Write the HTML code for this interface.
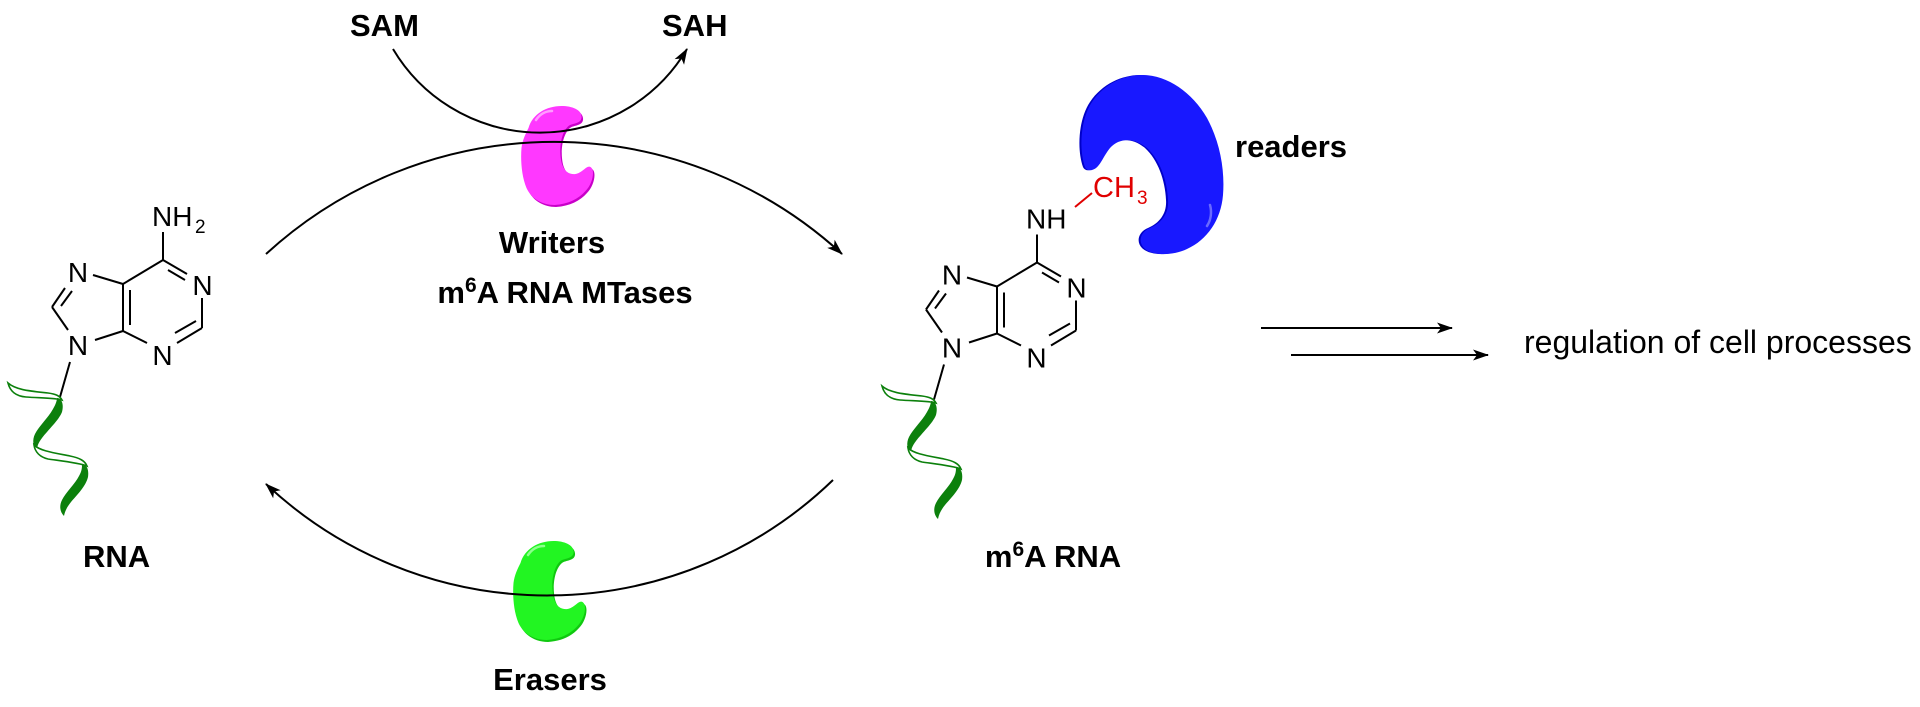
<!DOCTYPE html>
<html>
<head>
<meta charset="utf-8">
<style>
  html,body{margin:0;padding:0;background:#fff;}
  svg{display:block;}
  .lbl{font-family:"Liberation Sans",Arial,sans-serif;font-weight:bold;font-size:31px;fill:#000;}
  .atom{font-family:"Liberation Sans",Arial,sans-serif;font-size:28px;fill:#000;}
  .txt{font-family:"Liberation Sans",Arial,sans-serif;font-size:32px;fill:#000;}
</style>
</head>
<body>
<svg width="1920" height="707" viewBox="0 0 1920 707" xmlns="http://www.w3.org/2000/svg">
  <defs>
    <marker id="ah" viewBox="-18 -8 20 16" refX="0" refY="0" markerWidth="20" markerHeight="16" markerUnits="userSpaceOnUse" orient="auto">
      <path d="M1,0 L-15,-5.5 L-11,0 L-15,5.5 Z" fill="#000"/>
    </marker>
  </defs>
  <rect width="1920" height="707" fill="#fff"/>

  <!-- Writer enzyme (pink) -->
  <g>
    <path d="M530,130 C534,116 548,108 563,108 C574,108 584,112 583,120 C582,126 574,125 570,128 C563,134 561,148 562,158 C563,170 568,177 577,176 C584,175 588,167 592,169 C597,172 594,186 587,193 C580,201 570,206 556,207 C544,207 533,201 528,190 C523,178 522,162 523,150 C524,142 527,136 530,130 Z" fill="#c800c8"/>
    <path transform="translate(-1.5,-2)" d="M530,130 C534,116 548,108 563,108 C574,108 584,112 583,120 C582,126 574,125 570,128 C563,134 561,148 562,158 C563,170 568,177 577,176 C584,175 588,167 592,169 C597,172 594,186 587,193 C580,201 570,206 556,207 C544,207 533,201 528,190 C523,178 522,162 523,150 C524,142 527,136 530,130 Z" fill="#ff38ff"/>
    <path d="M536,120 C540,114 546,111 552,111" stroke="#ff9cff" stroke-width="2.5" fill="none" stroke-linecap="round"/>
  </g>

  <!-- Eraser enzyme (green) -->
  <g transform="translate(-8,435)">
    <path d="M530,130 C534,116 548,108 563,108 C574,108 584,112 583,120 C582,126 574,125 570,128 C563,134 561,148 562,158 C563,170 568,177 577,176 C584,175 588,167 592,169 C597,172 594,186 587,193 C580,201 570,206 556,207 C544,207 533,201 528,190 C523,178 522,162 523,150 C524,142 527,136 530,130 Z" fill="#10c810"/>
    <path transform="translate(-1.5,-2)" d="M530,130 C534,116 548,108 563,108 C574,108 584,112 583,120 C582,126 574,125 570,128 C563,134 561,148 562,158 C563,170 568,177 577,176 C584,175 588,167 592,169 C597,172 594,186 587,193 C580,201 570,206 556,207 C544,207 533,201 528,190 C523,178 522,162 523,150 C524,142 527,136 530,130 Z" fill="#22f522"/>
    <path d="M536,120 C540,114 546,111 552,111" stroke="#8dff8d" stroke-width="2.5" fill="none" stroke-linecap="round"/>
  </g>

  <!-- Reader enzyme (blue) -->
  <g>
    <path d="M1083,167 C1077,150 1078,120 1090,102 C1102,84 1122,75 1140,75 C1165,75 1190,92 1205,118 C1218,142 1223,170 1221,195 C1219,220 1205,240 1185,249 C1170,256 1150,256 1142,248 C1136,242 1138,232 1148,228 C1160,223 1167,213 1166,200 C1165,180 1158,160 1145,148 C1133,138 1118,137 1108,148 C1100,158 1098,168 1090,170 C1086,171 1084,169 1083,167 Z" fill="#0000c8"/>
    <path transform="translate(2,0)" d="M1083,167 C1077,150 1078,120 1090,102 C1102,84 1122,75 1140,75 C1165,75 1190,92 1205,118 C1218,142 1223,170 1221,195 C1219,220 1205,240 1185,249 C1170,256 1150,256 1142,248 C1136,242 1138,232 1148,228 C1160,223 1167,213 1166,200 C1165,180 1158,160 1145,148 C1133,138 1118,137 1108,148 C1100,158 1098,168 1090,170 C1086,171 1084,169 1083,167 Z" fill="#1818ff"/>
    <path d="M1210,205 C1212,212 1211,220 1207,226" stroke="#6a6aff" stroke-width="2.5" fill="none" stroke-linecap="round"/>
  </g>

  <!-- Cycle arcs -->
  <path d="M393,49 A171,171 0 0 0 687,49" stroke="#000" stroke-width="2" fill="none" marker-end="url(#ah)"/>
  <path d="M266,254 A426,426 0 0 1 842,254" stroke="#000" stroke-width="2" fill="none" marker-end="url(#ah)"/>
  <path d="M833,480 A411,411 0 0 1 266,484" stroke="#000" stroke-width="2" fill="none" marker-end="url(#ah)"/>

  <!-- Right arrows -->
  <line x1="1261" y1="328" x2="1452" y2="328" stroke="#000" stroke-width="2" marker-end="url(#ah)"/>
  <line x1="1291" y1="355" x2="1488" y2="355" stroke="#000" stroke-width="2" marker-end="url(#ah)"/>

  <!-- Adenine structure (left) -->
  <g stroke="#000" stroke-width="2" fill="none" stroke-linecap="butt">
    <line x1="163" y1="260" x2="163" y2="232"/>
    <line x1="163" y1="260" x2="187" y2="274"/>
    <line x1="168" y1="270" x2="185" y2="280"/>
    <line x1="202" y1="298" x2="202" y2="328"/>
    <line x1="202" y1="328" x2="177" y2="343"/>
    <line x1="175" y1="333" x2="196" y2="321"/>
    <line x1="147" y1="343" x2="123" y2="331"/>
    <line x1="123" y1="331" x2="123" y2="284"/>
    <line x1="130" y1="290" x2="130" y2="325"/>
    <line x1="123" y1="284" x2="163" y2="260"/>
    <line x1="123" y1="284" x2="93" y2="275"/>
    <line x1="65" y1="288" x2="52" y2="307"/>
    <line x1="72" y1="291" x2="61" y2="306"/>
    <line x1="52" y1="307" x2="68" y2="330"/>
    <line x1="95" y1="340" x2="123" y2="331"/>
    <line x1="70" y1="362" x2="60" y2="397"/>
  </g>
  <g>
    <text class="atom" x="78" y="282" text-anchor="middle">N</text>
    <text class="atom" x="202.5" y="295" text-anchor="middle">N</text>
    <text class="atom" x="162.5" y="365" text-anchor="middle">N</text>
    <text class="atom" x="78" y="355" text-anchor="middle">N</text>
    <text class="atom" x="152" y="226">NH</text>
    <text class="atom" x="195" y="233" style="font-size:19px">2</text>
  </g>

  <!-- Adenine structure (right, m6A) -->
  <g transform="translate(874,2.5)">
    <g stroke="#000" stroke-width="2" fill="none">
      <line x1="163" y1="260" x2="163" y2="232"/>
      <line x1="163" y1="260" x2="187" y2="274"/>
      <line x1="168" y1="270" x2="185" y2="280"/>
      <line x1="202" y1="298" x2="202" y2="328"/>
      <line x1="202" y1="328" x2="177" y2="343"/>
      <line x1="175" y1="333" x2="196" y2="321"/>
      <line x1="147" y1="343" x2="123" y2="331"/>
      <line x1="123" y1="331" x2="123" y2="284"/>
      <line x1="130" y1="290" x2="130" y2="325"/>
      <line x1="123" y1="284" x2="163" y2="260"/>
      <line x1="123" y1="284" x2="93" y2="275"/>
      <line x1="65" y1="288" x2="52" y2="307"/>
      <line x1="72" y1="291" x2="61" y2="306"/>
      <line x1="52" y1="307" x2="68" y2="330"/>
      <line x1="95" y1="340" x2="123" y2="331"/>
      <line x1="70" y1="362" x2="60" y2="397"/>
    </g>
    <text class="atom" x="78" y="282" text-anchor="middle">N</text>
    <text class="atom" x="202.5" y="295" text-anchor="middle">N</text>
    <text class="atom" x="162.5" y="365" text-anchor="middle">N</text>
    <text class="atom" x="78" y="355" text-anchor="middle">N</text>
    <text class="atom" x="152" y="226">NH</text>
  </g>

  <!-- methyl -->
  <line x1="1075" y1="207" x2="1092" y2="193" stroke="#e00000" stroke-width="2"/>
  <text x="1093" y="197" style="font-family:'Liberation Sans',Arial,sans-serif;font-size:29px;fill:#e00000">CH</text>
  <text x="1137" y="204" style="font-family:'Liberation Sans',Arial,sans-serif;font-size:19px;fill:#e00000">3</text>

  <!-- RNA helix (left) -->
  <g>
    <path d="M8,383 C16,390 30,391 48,393 C56,394 60,396 62,400 C56,398 40,398 26,397 C15,396 10,391 8,383 Z" fill="#fff" stroke="#0c800c" stroke-width="1.6"/>
    <path d="M57,398 C62,398 64,405 62,412 C59,420 48,430 42,438 C38,443 37,447 37,450 C33,447 32,440 35,434 C39,426 48,418 53,409 C56,404 57,400 57,398 Z" fill="#0c800c"/>
    <path d="M34,445 C40,451 55,453 70,456 C80,458 85,461 87,466 C80,463 62,461 48,459 C40,457 35,452 34,445 Z" fill="#fff" stroke="#0c800c" stroke-width="1.6"/>
    <path d="M82,465 C87,464 89,470 88,477 C86,486 77,495 71,502 C67,507 65,511 64,516 C60,512 59,506 62,500 C66,492 75,484 79,476 C82,471 82,467 82,465 Z" fill="#0c800c"/>
  </g>
  <!-- RNA helix (right) -->
  <g transform="translate(874,3)">
    <path d="M8,383 C16,390 30,391 48,393 C56,394 60,396 62,400 C56,398 40,398 26,397 C15,396 10,391 8,383 Z" fill="#fff" stroke="#0c800c" stroke-width="1.6"/>
    <path d="M57,398 C62,398 64,405 62,412 C59,420 48,430 42,438 C38,443 37,447 37,450 C33,447 32,440 35,434 C39,426 48,418 53,409 C56,404 57,400 57,398 Z" fill="#0c800c"/>
    <path d="M34,445 C40,451 55,453 70,456 C80,458 85,461 87,466 C80,463 62,461 48,459 C40,457 35,452 34,445 Z" fill="#fff" stroke="#0c800c" stroke-width="1.6"/>
    <path d="M82,465 C87,464 89,470 88,477 C86,486 77,495 71,502 C67,507 65,511 64,516 C60,512 59,506 62,500 C66,492 75,484 79,476 C82,471 82,467 82,465 Z" fill="#0c800c"/>
  </g>

  <!-- Labels -->
  <text class="lbl" x="350" y="36">SAM</text>
  <text class="lbl" x="662" y="36">SAH</text>
  <text class="lbl" x="552" y="253" text-anchor="middle">Writers</text>
  <text class="lbl" x="565" y="303" text-anchor="middle">m<tspan dy="-11" style="font-size:21px">6</tspan><tspan dy="11">A RNA MTases</tspan></text>
  <text class="lbl" x="1235" y="157">readers</text>
  <text class="lbl" x="83" y="567">RNA</text>
  <text class="lbl" x="1053" y="567" text-anchor="middle">m<tspan dy="-11" style="font-size:21px">6</tspan><tspan dy="11">A RNA</tspan></text>
  <text class="lbl" x="550" y="690" text-anchor="middle">Erasers</text>
  <text class="txt" x="1524" y="353">regulation of cell processes</text>
</svg>
</body>
</html>
